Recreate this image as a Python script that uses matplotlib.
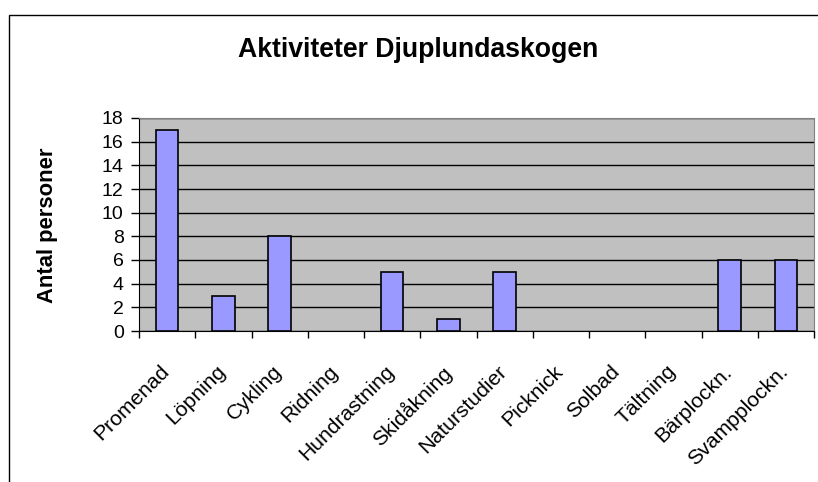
import numpy as np
import matplotlib
matplotlib.use("Agg")
import matplotlib.pyplot as plt
from matplotlib.patches import Rectangle

# Data
categories = ["Promenad", "Löpning", "Cykling", "Ridning", "Hundrastning", "Skidåkning",
              "Naturstudier", "Picknick", "Solbad", "Tältning", "Bärplockn.", "Svampplockn."]
values = [17, 3, 8, 0, 5, 1, 5, 0, 0, 0, 6, 6]
yticks = [0, 2, 4, 6, 8, 10, 12, 14, 16, 18]

plt.rcParams['font.family'] = ['Liberation Sans', 'DejaVu Sans']

W, H = 818, 482
fig = plt.figure(figsize=(W / 100, H / 100), dpi=100)
ax = fig.add_axes([139 / W, 1 - 331 / H, (814 - 139) / W, (331 - 118) / H])

# Outer chart frame (runs off the right and bottom edge)
fig.patches.append(Rectangle((9 / W, -0.1), 1.0, 1.1 - 15 / H, transform=fig.transFigure,
                             fill=False, edgecolor='black', linewidth=1.0))

x = np.arange(len(categories))
ax.set_facecolor('#C0C0C0')
bars = ax.bar(x, values, width=0.4, color='#9999FF', edgecolor='black', linewidth=1.2, zorder=3)
# Excel draws nothing for empty categories
for b, v in zip(bars, values):
    if v == 0:
        b.set_visible(False)

ax.set_xlim(-0.5, len(categories) - 0.5)
ax.set_ylim(0, 18)
ax.set_yticks(yticks)
ax.yaxis.grid(True, color='black', linewidth=1.0, zorder=1)
ax.set_axisbelow(True)
ax.tick_params(axis='y', labelsize=14, length=6, width=1, direction='out', pad=5)

# category ticks sit on the boundaries
ax.set_xticks(np.arange(len(categories) + 1) - 0.5)
ax.set_xticklabels([])
ax.tick_params(axis='x', length=5, width=1, direction='out')
for i, name in enumerate(categories):
    ax.text(i - 0.13, -2.6, name, rotation=45, ha='right', va='top', fontsize=15.2,
            rotation_mode='anchor', transform=ax.transData)

for side in ['top', 'right']:
    ax.spines[side].set_color('#808080')
ax.spines['left'].set_color('black')
ax.spines['bottom'].set_color('black')

fig.text(418 / W, 1 - 50 / H, "Aktiviteter Djuplundaskogen", ha='center', va='center',
         fontsize=19.2, fontweight='bold')
fig.text(47.5 / W, 1 - 225 / H, "Antal personer", rotation=90, ha='center', va='center',
         fontsize=15.8, fontweight='bold')

fig.savefig("out.png", dpi=100)
